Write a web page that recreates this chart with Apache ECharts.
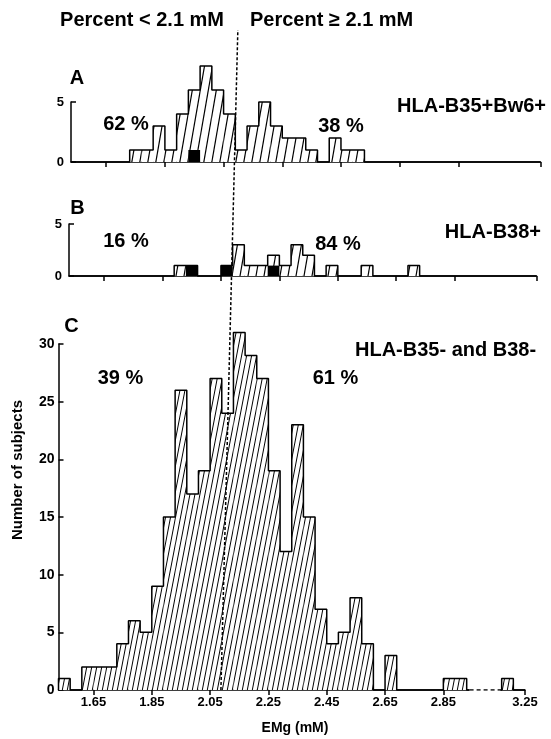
<!DOCTYPE html>
<html><head><meta charset="utf-8">
<script src="https://cdn.jsdelivr.net/npm/echarts@6/dist/echarts.min.js"></script>
<style>html,body{margin:0;padding:0;background:#fff}#c{width:551px;height:739px}</style>
</head><body><div id="c"></div>
<script>
// ---- data (EMg in mM, bin left edges, width 0.04) ----
const binEdges = [1.53,1.57,1.61,1.65,1.69,1.73,1.77,1.81,1.85,1.89,1.93,1.97,2.01,2.05,2.09,2.13,2.17,2.21,2.25,2.29,2.33,2.37,2.41,2.45,2.49,2.53,2.57,2.61,2.65,2.69,2.73,2.77,2.81,2.85,2.89,2.93,2.97,3.01,3.05,3.09,3.13,3.17,3.21];
const binWidth = 0.04;
// A: HLA-B35+Bw6+
const countsA = [0,0,0,0,0,1,1,3,1,4,6,8,6,4,1,3,5,3,2,2,1,0,2,1,1,0,0,0,0,0,0,0,0,0,0,0,0,0,0,0,0,0,0];
const blackA  = [0,0,0,0,0,0,0,0,0,0,1,0,0,0,0,0,0,0,0,0,0,0,0,0,0,0,0,0,0,0,0,0,0,0,0,0,0,0,0,0,0,0,0];
// B: HLA-B38+
const countsB = [0,0,0,0,0,0,0,0,0,1,1,0,0,1,3,1,1,2,1,3,2,0,1,0,0,1,0,0,0,1,0,0,0,0,0,0,0,0,0,0,0,0,0];
const blackB  = [0,0,0,0,0,0,0,0,0,0,1,0,0,1,0,0,0,1,0,0,0,0,0,0,0,0,0,0,0,0,0,0,0,0,0,0,0,0,0,0,0,0,0];
// C: HLA-B35- and B38-
const countsC = [1,0,2,2,2,4,6,5,9,15,26,17,19,27,24,31,29,27,19,12,23,15,7,4,5,8,4,0,3,0,0,0,0,1,1,0,0,0,0,0,0,1,0];
const xTickValues = [1.65,1.85,2.05,2.25,2.45,2.65,2.85,3.25];
const panelLetters = ['A','B','C'];
const panelGroups = ['HLA-B35+Bw6+','HLA-B38+','HLA-B35- and B38-'];
const pctBelow = ['62 %','16 %','39 %'];
const pctAbove = ['38 %','84 %','61 %'];
const headerBelow = 'Percent < 2.1 mM';
const headerAbove = 'Percent \u2265 2.1 mM';
const yName = 'Number of subjects';
const xName = 'EMg (mM)';
const threshold = 2.087;          // dashed cut line (2.1 mM) as drawn
const breakRange = [2.97, 3.09];  // collapsed stretch of the EMg axis

// ---- axis break mapping ----
const gapLen = breakRange[1] - breakRange[0];
const eps = 1e-9;
function inBreak(v){ return v >= breakRange[0]-eps && v < breakRange[1]-eps; }
function toAxis(v){ return v <= breakRange[0]+eps ? v : (v >= breakRange[1]-eps ? v - gapLen : breakRange[0]); }
const xTickDisp = xTickValues.map(toAxis);
const xMin = toAxis(binEdges[0]);
const xMax = toAxis(xTickValues[xTickValues.length-1]);

function makeHatch(w,h,lw){
  const c=document.createElement('canvas'); c.width=w; c.height=h;
  const g=c.getContext('2d'); g.fillStyle='#fff'; g.fillRect(0,0,w,h);
  g.strokeStyle='#000'; g.lineWidth=lw;
  for (const dx of [-w,0,w]) { g.beginPath(); g.moveTo(dx,h); g.lineTo(dx+w,0); g.stroke(); }
  return c;
}
const hatchSmall = {image: makeHatch(8,46,1.2), repeat:'repeat'};
const hatchBig = {image: makeHatch(5,26,1.0), repeat:'repeat'};
const hatches = [hatchSmall, hatchSmall, hatchBig];

const FONT = '"Liberation Sans", Arial, sans-serif';

function rectSeries(idx, counts, fill, z){
  const data=[];
  binEdges.forEach((e,i)=>{ if(counts[i]>0 && !inBreak(e)) data.push([toAxis(e), toAxis(e+binWidth), counts[i]]); });
  return {type:'custom', xAxisIndex:idx, yAxisIndex:idx, z, clip:false, silent:true, data,
    renderItem:(p, api)=>{
      const p0=api.coord([api.value(0), api.value(2)]);
      const p1=api.coord([api.value(1), 0]);
      return {type:'rect', shape:{x:p0[0], y:p0[1], width:p1[0]-p0[0], height:p1[1]-p0[1]}, style:{fill}};
    }};
}
function outlineSeries(idx, counts){
  const pts=[[toAxis(binEdges[0]),0]];
  binEdges.forEach((e,i)=>{ if(!inBreak(e)) pts.push([toAxis(e), counts[i]]); });
  pts.push([xMax,0]);
  return {type:'line', xAxisIndex:idx, yAxisIndex:idx, step:'end', data:pts, symbol:'none', clip:false, silent:true, z:4,
    lineStyle:{color:'#000', width:1.5}};
}

const grids = [
  {left:71, right:10.5, top:102, bottom:577},
  {left:69, right:14.5, top:224, bottom:463},
  {left:58.5, right:26, top:344, bottom:49}
];
const yMaxes=[5,5,30];

const xAxes = grids.map((g,i)=>({
  type:'value', gridIndex:i, min:xMin, max:xMax,
  axisLine:{show:true, lineStyle:{color:'#000', width:1.5}},
  axisTick:{show:true, customValues:xTickDisp, length:5, inside:false, lineStyle:{color:'#000', width:1.5}},
  axisLabel:{show:i===2, customValues:xTickDisp, margin:6, color:'#000', fontFamily:FONT, fontWeight:'bold', fontSize:13,
    formatter:(v)=>{ const k=xTickDisp.findIndex(d=>Math.abs(d-v)<1e-6); return k>=0 ? xTickValues[k].toFixed(2) : ''; }},
  splitLine:{show:false}
}));
const yAxes = grids.map((g,i)=>({
  type:'value', gridIndex:i, min:0, max:yMaxes[i], interval:5,
  axisLine:{show:true, lineStyle:{color:'#000', width:1.5}},
  axisTick:{show:true, inside:true, length:5, lineStyle:{color:'#000', width:1.5}},
  axisLabel:{color:'#000', fontFamily:FONT, fontWeight:'bold', fontSize:i===2?14:13, margin:i===2?4:7},
  splitLine:{show:false}
}));

const series = [];
[countsA,countsB,countsC].forEach((c,i)=>{ series.push(rectSeries(i,c,hatches[i],2)); });
[blackA,blackB].forEach((c,i)=>{ series.push(rectSeries(i,c,'#000',3)); });
[countsA,countsB,countsC].forEach((c,i)=>{ series.push(outlineSeries(i,c)); });
// dashed stretch of the broken C axis
const breakDash=[[2.94,0],[3.045,0]];
series.push({type:'line', xAxisIndex:2, yAxisIndex:2, data:breakDash, symbol:'none', silent:true, z:5, lineStyle:{color:'#fff', width:4}});
series.push({type:'line', xAxisIndex:2, yAxisIndex:2, data:breakDash, symbol:'none', silent:true, z:6, lineStyle:{color:'#000', width:1.5, type:[4,3]}});

function txt(id, s, x, y, size, align, extra){
  return Object.assign({type:'text', id, x, y, z:50, silent:true,
    style:{text:s, fill:'#000', font:'bold '+size+'px '+FONT, align:align||'center', verticalAlign:'middle'}}, extra||{});
}
const graphics = [
  txt('h1', headerBelow, 224, 20, 20, 'right'),
  txt('h2', headerAbove, 250, 20, 20, 'left'),
  txt('lA', panelLetters[0], 77, 78, 20), txt('lB', panelLetters[1], 77.5, 208.5, 20), txt('lC', panelLetters[2], 71.5, 326.5, 20),
  txt('gA', panelGroups[0], 546, 106, 20, 'right'), txt('gB', panelGroups[1], 541, 232.5, 20, 'right'), txt('gC', panelGroups[2], 355, 350, 20, 'left'),
  txt('bA', pctBelow[0], 126, 124.5, 20), txt('bB', pctBelow[1], 126, 241, 20), txt('bC', pctBelow[2], 120.5, 378.5, 20),
  txt('aA', pctAbove[0], 341, 126.5, 20), txt('aB', pctAbove[1], 338, 244, 20), txt('aC', pctAbove[2], 335.5, 378.5, 20),
  txt('yn', yName, 18, 470, 15, 'center', {rotation:Math.PI/2}),
  txt('xn', xName, 295, 728, 14)
];

const chart = echarts.init(document.getElementById('c'), null, {renderer:'canvas'});
chart.setOption({animation:false, backgroundColor:'#fff', grid:grids, xAxis:xAxes, yAxis:yAxes, series, graphic:graphics});

const pC = chart.convertToPixel({xAxisIndex:2, yAxisIndex:2}, [threshold, 0]);
const pA = chart.convertToPixel({xAxisIndex:0, yAxisIndex:0}, [threshold, 0]);
const yTop = 30;
const t = (yTop - pC[1])/(pA[1]-pC[1]);
const xTop = pC[0] + t*(pA[0]-pC[0]);
chart.setOption({graphic:[{type:'line', id:'cut', z:60, silent:true,
  shape:{x1:pC[0], y1:pC[1], x2:xTop, y2:yTop}, style:{stroke:'#000', lineWidth:1.5, lineDash:[3,2]}}]});
</script></body></html>
